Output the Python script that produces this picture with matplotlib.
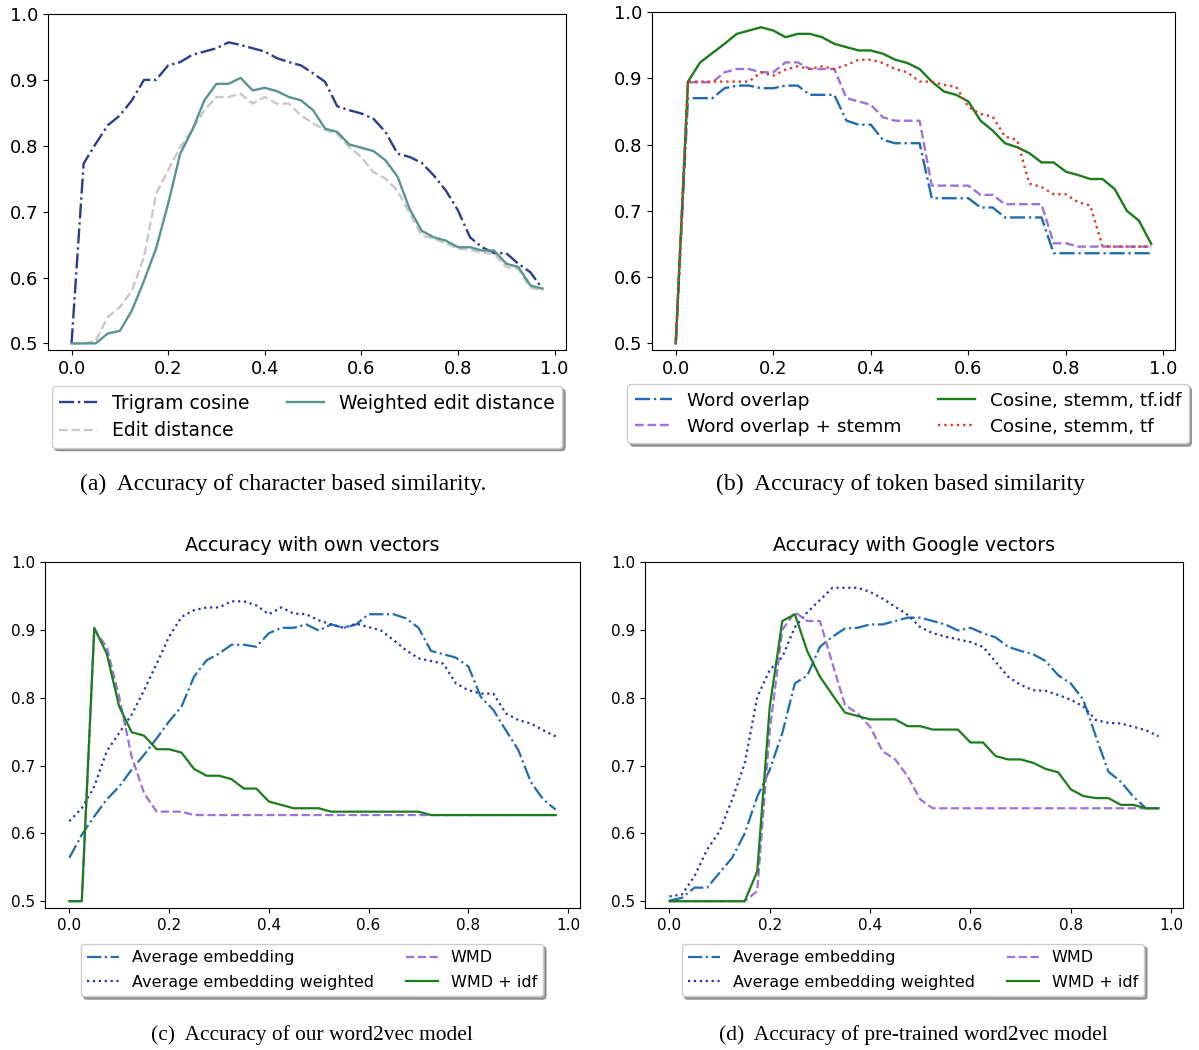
import numpy as np
import matplotlib
matplotlib.use("Agg")
from matplotlib import pyplot as plt

# thresholds 0.0 .. 0.975
x = np.arange(40) * 0.025

# (a) character based similarity
trigram = [0.5, 0.773, 0.803, 0.831, 0.846, 0.869, 0.9, 0.9, 0.922, 0.927,
           0.938, 0.943, 0.948, 0.957, 0.953, 0.948, 0.943, 0.933, 0.927, 0.922,
           0.91, 0.897, 0.86, 0.854, 0.849, 0.841, 0.821, 0.788, 0.783, 0.774,
           0.755, 0.732, 0.702, 0.661, 0.646, 0.637, 0.637, 0.621, 0.608, 0.583]
edit_dist = [0.5, 0.5, 0.504, 0.54, 0.555, 0.58, 0.631, 0.727, 0.763, 0.798,
             0.824, 0.854, 0.874, 0.874, 0.879, 0.864, 0.874, 0.864, 0.864, 0.846,
             0.834, 0.824, 0.818, 0.798, 0.783, 0.76, 0.75, 0.732, 0.697, 0.664,
             0.659, 0.652, 0.644, 0.642, 0.638, 0.636, 0.616, 0.613, 0.585, 0.58]
weighted_edit = [0.5, 0.5, 0.5, 0.515, 0.519, 0.55, 0.595, 0.644, 0.712, 0.788,
                 0.824, 0.869, 0.894, 0.894, 0.903, 0.884, 0.888, 0.883, 0.874, 0.869,
                 0.854, 0.826, 0.821, 0.802, 0.797, 0.792, 0.778, 0.753, 0.704, 0.671,
                 0.661, 0.656, 0.646, 0.646, 0.641, 0.641, 0.621, 0.616, 0.588, 0.583]

# (b) token based similarity
word_overlap = [0.5, 0.87, 0.87, 0.87, 0.885, 0.889, 0.889, 0.885, 0.885, 0.889,
                0.889, 0.875, 0.875, 0.875, 0.836, 0.83, 0.83, 0.807, 0.802, 0.802,
                0.802, 0.719, 0.719, 0.719, 0.719, 0.705, 0.705, 0.69, 0.69, 0.69,
                0.69, 0.636, 0.636, 0.636, 0.636, 0.636, 0.636, 0.636, 0.636, 0.636]
word_overlap_stemm = [0.5, 0.894, 0.894, 0.894, 0.909, 0.914, 0.914, 0.909, 0.909, 0.924,
                      0.924, 0.914, 0.914, 0.914, 0.87, 0.865, 0.86, 0.841, 0.836, 0.836,
                      0.836, 0.738, 0.738, 0.738, 0.738, 0.724, 0.724, 0.71, 0.71, 0.71,
                      0.71, 0.651, 0.651, 0.646, 0.646, 0.646, 0.646, 0.646, 0.646, 0.646]
cos_tfidf = [0.5, 0.895, 0.924, 0.938, 0.952, 0.967, 0.972, 0.977, 0.972, 0.962,
             0.967, 0.967, 0.962, 0.952, 0.947, 0.942, 0.942, 0.937, 0.928, 0.923,
             0.914, 0.895, 0.88, 0.875, 0.865, 0.836, 0.821, 0.802, 0.796, 0.787,
             0.773, 0.773, 0.759, 0.754, 0.748, 0.748, 0.733, 0.7, 0.685, 0.65]
cos_tf = [0.5, 0.895, 0.895, 0.895, 0.895, 0.895, 0.895, 0.909, 0.904, 0.913,
          0.918, 0.914, 0.918, 0.914, 0.92, 0.928, 0.928, 0.923, 0.914, 0.909,
          0.895, 0.895, 0.89, 0.887, 0.857, 0.846, 0.842, 0.812, 0.807, 0.741,
          0.736, 0.725, 0.725, 0.713, 0.708, 0.647, 0.646, 0.646, 0.646, 0.646]

# (c) own word2vec vectors
own_avg = [0.564, 0.598, 0.625, 0.65, 0.669, 0.694, 0.716, 0.74, 0.765, 0.787,
           0.831, 0.855, 0.865, 0.878, 0.878, 0.875, 0.895, 0.903, 0.903, 0.908,
           0.899, 0.908, 0.903, 0.908, 0.923, 0.923, 0.923, 0.917, 0.903, 0.869,
           0.864, 0.859, 0.846, 0.801, 0.782, 0.752, 0.723, 0.676, 0.65, 0.635]
own_avg_w = [0.618, 0.637, 0.669, 0.721, 0.748, 0.775, 0.811, 0.85, 0.89, 0.919,
             0.929, 0.933, 0.933, 0.942, 0.942, 0.936, 0.923, 0.933, 0.924, 0.923,
             0.914, 0.908, 0.903, 0.909, 0.904, 0.899, 0.885, 0.87, 0.858, 0.854,
             0.85, 0.821, 0.811, 0.806, 0.806, 0.777, 0.767, 0.762, 0.752, 0.743]
own_wmd = [0.5, 0.5, 0.9, 0.875, 0.801, 0.713, 0.659, 0.632, 0.632, 0.632,
           0.627, 0.627, 0.627, 0.627, 0.627, 0.627, 0.627, 0.627, 0.627, 0.627,
           0.627, 0.627, 0.627, 0.627, 0.627, 0.627, 0.627, 0.627, 0.627, 0.627,
           0.627, 0.627, 0.627, 0.627, 0.627, 0.627, 0.627, 0.627, 0.627, 0.627]
own_wmd_idf = [0.5, 0.5, 0.903, 0.865, 0.787, 0.749, 0.744, 0.724, 0.724, 0.719,
               0.695, 0.685, 0.685, 0.68, 0.666, 0.666, 0.647, 0.642, 0.637, 0.637,
               0.637, 0.632, 0.632, 0.632, 0.632, 0.632, 0.632, 0.632, 0.632, 0.627,
               0.627, 0.627, 0.627, 0.627, 0.627, 0.627, 0.627, 0.627, 0.627, 0.627]

# (d) pre-trained Google vectors
g_avg = [0.501, 0.505, 0.52, 0.52, 0.542, 0.564, 0.6, 0.654, 0.694, 0.748,
         0.821, 0.833, 0.875, 0.89, 0.902, 0.903, 0.908, 0.908, 0.913, 0.918,
         0.918, 0.913, 0.908, 0.899, 0.903, 0.895, 0.889, 0.875, 0.869, 0.864,
         0.854, 0.833, 0.821, 0.797, 0.743, 0.691, 0.676, 0.654, 0.637, 0.637]
g_avg_w = [0.507, 0.51, 0.537, 0.576, 0.603, 0.65, 0.703, 0.801, 0.841, 0.86,
           0.904, 0.926, 0.944, 0.962, 0.962, 0.962, 0.956, 0.946, 0.934, 0.922,
           0.904, 0.895, 0.89, 0.886, 0.882, 0.875, 0.853, 0.831, 0.819, 0.811,
           0.81, 0.804, 0.797, 0.787, 0.767, 0.763, 0.762, 0.757, 0.752, 0.743]
g_wmd = [0.5, 0.5, 0.5, 0.5, 0.5, 0.5, 0.5, 0.515, 0.752, 0.9,
         0.926, 0.913, 0.913, 0.85, 0.789, 0.777, 0.757, 0.721, 0.709, 0.684,
         0.65, 0.637, 0.637, 0.637, 0.637, 0.637, 0.637, 0.637, 0.637, 0.637,
         0.637, 0.637, 0.637, 0.637, 0.637, 0.637, 0.637, 0.637, 0.637, 0.637]
g_wmd_idf = [0.5, 0.5, 0.5, 0.5, 0.5, 0.5, 0.5, 0.544, 0.787, 0.913,
             0.923, 0.868, 0.831, 0.804, 0.778, 0.773, 0.768, 0.768, 0.768, 0.758,
             0.758, 0.753, 0.753, 0.753, 0.734, 0.734, 0.714, 0.709, 0.709, 0.704,
             0.695, 0.69, 0.665, 0.655, 0.652, 0.652, 0.642, 0.642, 0.637, 0.637]

W, H = 1199, 1050
fig = plt.figure(figsize=(W / 100, H / 100), dpi=100)


def px_axes(left, top, right, bottom):
    return fig.add_axes([left / W, 1 - bottom / H, (right - left) / W, (bottom - top) / H])


def add_legend(ax, cx, top, size, rowgap):
    ax.legend(ncol=2, loc="upper center", bbox_to_anchor=(cx / W, 1 - top / H),
              bbox_transform=fig.transFigure, shadow=True, fontsize=size,
              framealpha=1, edgecolor="#cccccc", labelspacing=rowgap)


def caption(cx, cy, text, size):
    fig.text(cx / W, 1 - cy / H, text, family=["Liberation Serif", "DejaVu Serif"],
             fontsize=size, ha="center", va="center")


# (a)
ax = px_axes(48, 14, 566, 350)
ax.plot(x, trigram, color="#2b3d8f", ls="-.", lw=1.7, label="Trigram cosine")
ax.plot(x, edit_dist, color="#c8c8c8", ls="--", lw=1.7, label="Edit distance")
ax.plot(x, weighted_edit, color="#5a9490", ls="-", lw=1.7, label="Weighted edit distance")
ax.set_ylim(0.49, 1.0)
ax.tick_params(labelsize=13)
add_legend(ax, 307, 377, 13.5, 0.45)
caption(283, 484, "(a)  Accuracy of character based similarity.", 17)

# (b)
ax = px_axes(652, 12, 1175, 350)
ax.plot(x, word_overlap, color="#1f6db0", ls="-.", lw=1.7, label="Word overlap")
ax.plot(x, word_overlap_stemm, color="#9a74dc", ls="--", lw=1.7, label="Word overlap + stemm")
ax.plot(x, cos_tfidf, color="#1b7d1b", ls="-", lw=1.7, label="Cosine, stemm, tf.idf")
ax.plot(x, cos_tf, color="#e03a2c", ls=":", lw=1.7, label="Cosine, stemm, tf")
ax.set_ylim(0.49, 1.0)
ax.tick_params(labelsize=13)
add_legend(ax, 908, 375, 13.3, 0.45)
caption(901, 484, "(b)  Accuracy of token based similarity", 17)

# (c) and (d)
bottom_panels = [
    (45, 580, 312, "Accuracy with own vectors", own_avg, own_avg_w, own_wmd, own_wmd_idf,
     "(c)  Accuracy of our word2vec model"),
    (645, 1183, 913, "Accuracy with Google vectors", g_avg, g_avg_w, g_wmd, g_wmd_idf,
     "(d)  Accuracy of pre-trained word2vec model"),
]
for left, right, cx, title, avg, avg_w, wmd, wmd_idf, cap in bottom_panels:
    ax = px_axes(left, 562, right, 908)
    ax.plot(x, avg, color="#1f6db0", ls="-.", lw=1.6, label="Average embedding")
    ax.plot(x, avg_w, color="#2233bb", ls=":", lw=1.6, label="Average embedding weighted")
    ax.plot(x, wmd, color="#9a74dc", ls="--", lw=1.6, label="WMD")
    ax.plot(x, wmd_idf, color="#1b7d1b", ls="-", lw=1.6, label="WMD + idf")
    ax.set_ylim(0.49, 1.0)
    ax.tick_params(labelsize=11)
    ax.set_title(title, fontsize=13.7, pad=8)
    add_legend(ax, cx, 936, 11.5, 0.6)
    caption(cx, 1035, cap, 15.4)

fig.savefig("out.png", dpi=100)
